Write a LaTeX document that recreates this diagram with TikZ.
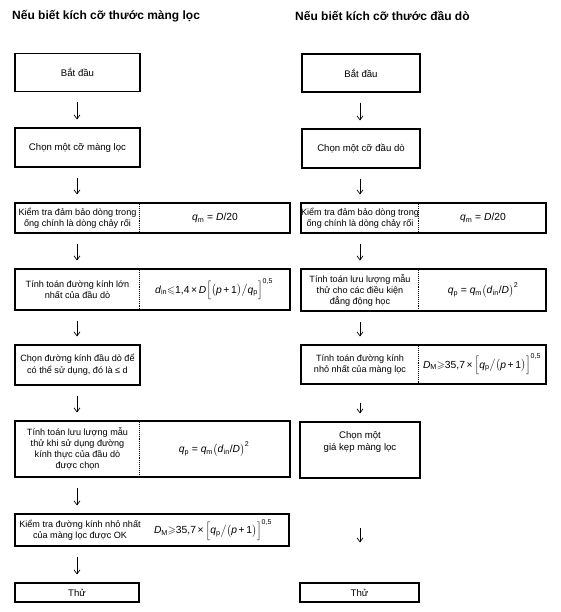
\documentclass[tikz,border=0pt]{standalone}
\usepackage{amssymb}
\usepackage{fontspec}
\setmainfont{Liberation Sans}
\usetikzlibrary{arrows.meta}
% italic variable in formulas
\newcommand{\vr}[1]{\textit{#1}}
\newcommand{\sub}[1]{\textsubscript{#1}}
\begin{document}
\begin{tikzpicture}[x=1pt,y=-1pt,
  box/.style={draw, line width=1.1pt, inner sep=1pt, align=center,
    font=\fontsize{9.6}{11.5}\selectfont},
  narrow/.style={box, minimum width=125pt},
  narrowr/.style={box, minimum width=118pt},
  wide/.style={box, minimum width=275pt},
  wider/.style={box, minimum width=245pt},
  txt/.style={align=center, inner sep=0pt, font=\fontsize{9.1}{11}\selectfont},
  eq/.style={inner sep=0pt, font=\fontsize{10.3}{12}\selectfont},
  divider/.style={densely dotted, line width=0.9pt},
  flow/.style={-{Straight Barb[length=4pt,width=6pt]}, line width=0.7pt,
    shorten <=10pt, shorten >=8pt},
  title/.style={anchor=west, inner sep=0pt, font=\fontsize{12}{14}\selectfont\bfseries}]
  \useasboundingbox (0,0) rectangle (560,612);

  % titles
  \node[title] (tl) at (12,16) {Nếu biết kích cỡ thước màng lọc};
  \node[title] (tr) at (295,16) {Nếu biết kích cỡ thước đầu dò};

  % left column
  \node[narrow, minimum height=38pt] (l1) at (77.5,72.5) {Bắt đầu};
  \node[narrow, minimum height=39pt] (l2) at (77.5,147.5) {Chọn một cỡ màng lọc};
  \node[wide, minimum height=30pt] (l3) at (152.5,218) {};
  \node[txt] (l3t) at (77.5,218) {Kiểm tra đảm bảo dòng trong\\ống chính là dòng chảy rối};
  \node[eq] (l3e) at (215,218) {\vr{q}\sub{m} = \vr{D}/20};
  \draw[divider] ([xshift=125pt]l3.north west) -- ([xshift=125pt]l3.south west);
  \node[wide, minimum height=41pt] (l4) at (152.5,289.5) {};
  \node[txt] (l4t) at (77.5,289.5) {Tính toán đường kính lớn\\nhất của đầu dò};
  \node[eq] (l4e) at (214,289.5) {\vr{d}\sub{in}$\leqslant$1,4\,×\,\vr{D}$\Big[\big($\vr{p}\,+\,1$\big)\big/$\vr{q}\sub{p}$\Big]^{\mbox{\scriptsize 0,5}}$};
  \draw[divider] ([xshift=125pt]l4.north west) -- ([xshift=125pt]l4.south west);
  \node[narrow, minimum height=40pt] (l5) at (77.5,365) {\fontsize{9.1}{11}\selectfont Chọn đường kính đầu dò để\\\fontsize{9.1}{11}\selectfont có thể sử dụng, đó là ≤ d};
  \node[wide, minimum height=56pt] (l6) at (152.5,449) {};
  \node[txt] (l6t) at (77.5,449) {Tính toán lưu lượng mẫu\\thử khi sử dụng đường\\kính thực của đầu dò\\được chọn};
  \node[eq] (l6e) at (214,449) {\vr{q}\sub{p} = \vr{q}\sub{m}$\big($\vr{d}\sub{in}/\vr{D}$\big)^{\mbox{\scriptsize 2}}$};
  \draw[divider] ([xshift=125pt]l6.north west) -- ([xshift=125pt]l6.south west);
  \node[wide, minimum width=274pt, minimum height=32pt] (l7) at (152,530) {};
  \node[txt] (l7t) at (80,530) {Kiểm tra đường kính nhỏ nhất\\của màng lọc được OK};
  \node[eq] (l7e) at (213,530) {\vr{D}\sub{M}$\geqslant$35,7\,×\,$\Big[$\vr{q}\sub{p}$\big/\big($\vr{p}\,+\,1$\big)\Big]^{\mbox{\scriptsize 0,5}}$};
  \node[narrow, minimum width=124pt, minimum height=19pt] (l8) at (77,592.5) {Thử};

  % right column
  \node[narrowr, minimum height=38pt] (r1) at (361,73) {Bắt đầu};
  \node[narrowr, minimum height=39pt] (r2) at (361,148.5) {Chọn một cỡ đầu dò};
  \node[wider, minimum height=30pt] (r3) at (423.5,218) {};
  \node[txt] (r3t) at (360,218) {Kiểm tra đảm bảo dòng trong\\ống chính là dòng chảy rối};
  \node[eq] (r3e) at (483,218) {\vr{q}\sub{m} = \vr{D}/20};
  \draw[divider] ([xshift=118pt]r3.north west) -- ([xshift=118pt]r3.south west);
  \node[wider, minimum height=42pt] (r4) at (423.5,290) {};
  \node[txt] (r4t) at (360,290) {Tính toán lưu lượng mẫu\\thử cho các điều kiện\\đẳng động học};
  \node[eq] (r4e) at (483,290) {\vr{q}\sub{p} = \vr{q}\sub{m}$\big($\vr{d}\sub{in}/\vr{D}$\big)^{\mbox{\scriptsize 2}}$};
  \draw[divider] ([xshift=118pt]r4.north west) -- ([xshift=118pt]r4.south west);
  \node[wider, minimum height=39pt] (r5) at (423.5,364.5) {};
  \node[txt] (r5t) at (360,364.5) {Tính toán đường kính\\nhỏ nhất của màng lọc};
  \node[eq] (r5e) at (482,364.5) {\vr{D}\sub{M}$\geqslant$35,7\,×\,$\Big[$\vr{q}\sub{p}$\big/\big($\vr{p}\,+\,1$\big)\Big]^{\mbox{\scriptsize 0,5}}$};
  \draw[divider] ([xshift=118pt]r5.north west) -- ([xshift=118pt]r5.south west);
  \node[narrowr, minimum width=120pt, minimum height=56pt] (r6) at (360,450) {Chọn một\\giá kẹp màng lọc\\[6pt]};
  \node[narrowr, minimum width=119pt, minimum height=19pt] (r7) at (359.5,592.5) {Thử};

  % arrows
  \draw[flow] (l1.south -| 77,0) -- (l2.north -| 77,0);
  \draw[flow] (l2.south -| 77,0) -- (l3.north -| 77,0);
  \draw[flow] (l3.south -| 77,0) -- (l4.north -| 77,0);
  \draw[flow] (l4.south -| 77,0) -- (l5.north -| 77,0);
  \draw[flow] (l5.south -| 77,0) -- (l6.north -| 77,0);
  \draw[flow] (l6.south -| 77,0) -- (l7.north -| 77,0);
  \draw[flow] (l7.south -| 77,0) -- (l8.north -| 77,0);
  \draw[flow] (r1.south -| 360,0) -- (r2.north -| 360,0);
  \draw[flow] (r2.south -| 360,0) -- (r3.north -| 360,0);
  \draw[flow] (r3.south -| 360,0) -- (r4.north -| 360,0);
  \draw[flow] (r4.south -| 360,0) -- (r5.north -| 360,0);
  \draw[flow, shorten <=18pt] (r5.south -| 360,0) -- (r6.north -| 360,0);
  \draw[flow, shorten <=49pt, shorten >=40pt] (r6.south -| 360,0) -- (r7.north -| 360,0);
\end{tikzpicture}
\end{document}
